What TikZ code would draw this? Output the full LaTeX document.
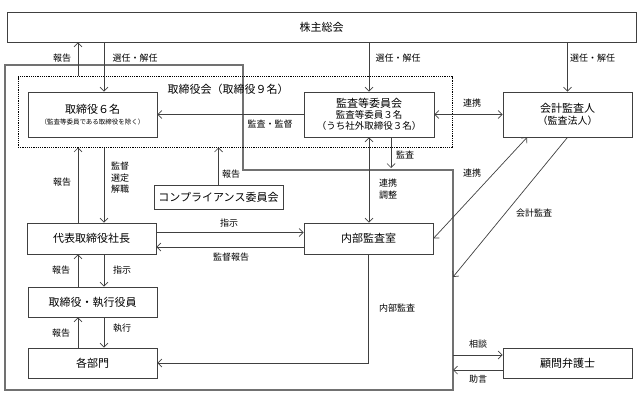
\documentclass[tikz,border=0pt]{standalone}
\usepackage{fontspec}
\setmainfont{Noto Sans CJK JP}
\usetikzlibrary{arrows.meta}
\definecolor{linegray}{HTML}{404040}
\definecolor{thickgray}{HTML}{717171}
\tikzset{
  box/.style={draw=linegray, line width=0.8pt, inner sep=0pt, align=center, font=\fontsize{11}{13}\selectfont},
  lbl/.style={inner sep=0pt, align=center, font=\fontsize{9}{11.5}\selectfont},
  arr/.style={draw=linegray, line width=0.7pt, -{Straight Barb[length=4pt,width=8pt]}},
  darr/.style={draw=linegray, line width=0.7pt, {Straight Barb[length=4pt,width=8pt]}-{Straight Barb[length=4pt,width=8pt]}},
}
\begin{document}
\begin{tikzpicture}[x=1pt, y=-1pt]
    \useasboundingbox (0,0) rectangle (644,401);

    \coordinate(t1) at (5,65);
    \coordinate(t2) at (243,65);
    \coordinate(t3) at (243,170);
    \coordinate(t4) at (453,170);
    \coordinate(t5) at (453,390);
    \coordinate(t6) at (5,390);
    \draw[thickgray, line width=2.5pt] (t1) -- (t2) -- (t3) -- (t4) -- (t5) -- (t6) -- cycle;

    \coordinate(cL) at (78,0);
    \coordinate(cR) at (104,0);
    \coordinate(cAud) at (391,0);
    \coordinate(cLk) at (527,0);
    \coordinate(rA) at (0,232.5);
    \coordinate(rB) at (0,247);
    \coordinate(rC) at (0,355);
    \coordinate(rD) at (0,370);
    \coordinate(kaTip) at (453,277);

    \node(board)[draw, line width=1pt, dash pattern=on 1.2pt off 1pt, minimum width=434pt, minimum height=70pt] at (235,112) {};
    \node(boardlbl)[inner sep=0pt, font=\fontsize{11}{13}\selectfont] at (228,89) {取締役会（取締役９名）};

    \node(sh)[box, minimum width=629pt, minimum height=30pt] at (321.5,27) {株主総会};
    \node(dir)[box, minimum width=129pt, minimum height=45pt] at (92.5,114.5) {取締役６名\\[-2pt]{\fontsize{6.5}{8}\selectfont （監査等委員である取締役を除く）}};
    \node(ac)[box, minimum width=130pt, minimum height=45pt] at (369,114.5) {監査等委員会\\[-2pt]{\fontsize{9.5}{11}\selectfont 監査等委員３名}\\[-2pt]{\fontsize{9.5}{11}\selectfont （うち社外取締役３名）}};
    \node(ca)[box, minimum width=129pt, minimum height=45pt] at (567.5,114.5) {会計監査人\\[-1pt]{\fontsize{10}{12}\selectfont （監査法人）}};
    \node(comp)[box, minimum width=129pt, minimum height=24pt] at (218.5,197) {コンプライアンス委員会};
    \node(pres)[box, minimum width=129pt, minimum height=31pt] at (91.5,238.5) {代表取締役社長};
    \node(ia)[box, minimum width=129pt, minimum height=31pt] at (368.5,238.5) {内部監査室};
    \node(exec)[box, minimum width=129pt, minimum height=30pt] at (92.5,302) {取締役・執行役員};
    \node(dept)[box, minimum width=129pt, minimum height=30pt] at (92.5,363) {各部門};
    \node(law)[box, minimum width=129pt, minimum height=30pt] at (567.5,363) {顧問弁護士};

    \draw[arr] (board.north -| cL) -- (sh.south -| cL);
    \draw[arr] (sh.south -| cR) -- (dir.north -| cR);
    \draw[arr] (sh.south -| ac.north) -- (ac.north);
    \draw[arr] (sh.south -| ca.north) -- (ca.north);
    \draw[arr] (ac.west) -- (dir.east);
    \draw[darr] (ac.east) -- (ca.west);
    \draw[arr, shorten >=2pt] (ac.south -| cAud) -- (t3 -| cAud);
    \draw[darr] (ac.south) -- (ac.south |- ia.north);
    \draw[arr] (pres.north -| cL) -- (board.south -| cL);
    \draw[arr] (board.south -| cR) -- (pres.north -| cR);
    \draw[arr] (comp.north) -- (board.south -| comp.north);
    \draw[arr] (pres.east |- rA) -- (ia.west |- rA);
    \draw[arr] (ia.west |- rB) -- (pres.east |- rB);
    \draw[arr] (exec.north -| cL) -- (pres.south -| cL);
    \draw[arr] (pres.south -| cR) -- (exec.north -| cR);
    \draw[arr] (dept.north -| cL) -- (exec.south -| cL);
    \draw[arr] (exec.south -| cR) -- (dept.north -| cR);
    \draw[arr] (ia.south) -- (ia.south |- dept.east) -- (dept.east);
    \draw[darr] (ia.east) -- (ca.south -| cLk);
    \draw[arr] (ca.south) -- (kaTip);
    \draw[arr] (t4 |- rC) -- (law.west |- rC);
    \draw[arr] (law.west |- rD) -- (t4 |- rD);

    \node(l1)[lbl] at (62,58) {報告};
    \node(l2)[lbl] at (135,58) {選任・解任};
    \node(l3)[lbl] at (398,58) {選任・解任};
    \node(l4)[lbl] at (592.5,58) {選任・解任};
    \node(l5)[lbl] at (270,124) {監査・監督};
    \node(l6)[lbl] at (472,103) {連携};
    \node(l7)[lbl] at (405,155) {監査};
    \node(l8)[lbl] at (388,189) {連携\\調整};
    \node(l9)[lbl] at (62,182) {報告};
    \node(l10)[lbl] at (120,178) {監督\\選定\\解職};
    \node(l11)[lbl] at (231,174) {報告};
    \node(l12)[lbl] at (472,173) {連携};
    \node(l13)[lbl] at (534,213) {会計監査};
    \node(l14)[lbl] at (229,223) {指示};
    \node(l15)[lbl] at (231,257) {監督報告};
    \node(l16)[lbl] at (61,270) {報告};
    \node(l17)[lbl] at (122,270) {指示};
    \node(l18)[lbl] at (61,333) {報告};
    \node(l19)[lbl] at (122,328) {執行};
    \node(l20)[lbl] at (397,308) {内部監査};
    \node(l21)[lbl] at (478,344) {相談};
    \node(l22)[lbl] at (478,379) {助言};
\end{tikzpicture}
\end{document}
